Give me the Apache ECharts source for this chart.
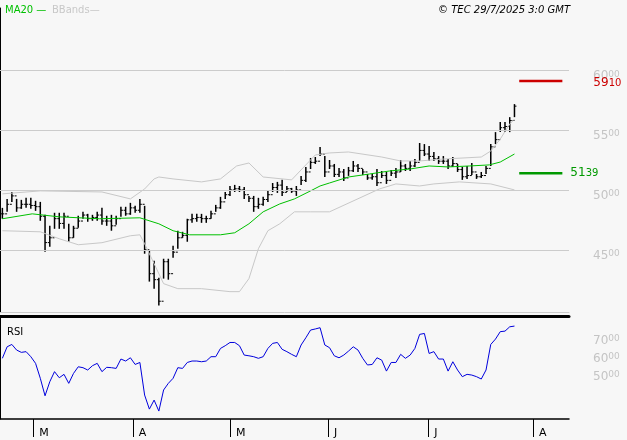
<!DOCTYPE html>
<html><head><meta charset="utf-8">
<script src="https://cdn.jsdelivr.net/npm/echarts@6/dist/echarts.min.js"></script>
<style>html,body{margin:0;padding:0;background:#f7f7f7}#c{width:627px;height:440px}</style>
</head><body><div id="c"></div>
<script>
const highs=[4850,4925,4983,4925,4917,4934,4934,4909,4900,4792,4700,4809,4809,4809,4717,4700,4784,4817,4800,4792,4817,4850,4784,4792,4784,4859,4859,4892,4867,4925,4867,4492,4409,4267,4425,4425,4534,4659,4650,4759,4800,4800,4800,4784,4825,4875,4942,4983,5033,5042,5033,5025,4950,4950,4934,4942,5000,5058,5067,5084,5033,5017,5033,5117,5192,5267,5275,5358,5283,5250,5217,5183,5175,5192,5242,5217,5175,5133,5133,5175,5158,5150,5167,5183,5250,5217,5242,5258,5392,5383,5367,5317,5283,5283,5258,5275,5217,5192,5200,5225,5133,5150,5200,5383,5483,5567,5567,5608,5717];
const lows=[4759,4817,4900,4817,4842,4850,4842,4825,4742,4484,4525,4675,4675,4675,4567,4600,4684,4759,4734,4742,4742,4709,4700,4659,4709,4775,4784,4792,4809,4809,4467,4234,4175,4034,4259,4250,4434,4509,4600,4567,4725,4734,4725,4725,4759,4817,4842,4925,4950,4983,4983,4925,4900,4817,4842,4867,4900,4983,4975,4950,4983,4975,4950,5042,5067,5175,5217,5283,5108,5175,5108,5108,5075,5117,5150,5150,5125,5084,5084,5033,5100,5050,5117,5100,5150,5158,5158,5192,5242,5283,5242,5242,5217,5217,5175,5192,5150,5084,5092,5125,5092,5100,5133,5200,5383,5483,5483,5483,5608];
const closes=[4800,4880,4950,4850,4880,4880,4870,4860,4780,4560,4600,4760,4720,4780,4600,4680,4740,4790,4760,4770,4790,4740,4740,4700,4760,4830,4800,4850,4830,4880,4500,4300,4250,4070,4400,4300,4480,4600,4620,4750,4760,4770,4760,4760,4800,4850,4900,4960,5000,5010,5000,4960,4930,4860,4880,4920,4960,5020,5040,4980,5010,4990,5000,5080,5150,5230,5240,5300,5150,5200,5130,5150,5100,5160,5200,5180,5150,5100,5110,5060,5120,5080,5140,5150,5200,5180,5200,5230,5330,5300,5280,5260,5240,5240,5200,5220,5170,5110,5120,5150,5110,5120,5180,5360,5420,5520,5530,5580,5700];
const rsi=[59.3,65.7,67,63.9,62.6,63,60.2,56.5,48.2,38.5,46.3,51.9,48.5,50.4,45.4,50.9,54.6,54.1,52.8,55.2,56.5,51.9,54.3,54.1,53.7,58.9,57.8,59.6,55.9,57,38.9,31.1,36.1,30,41.7,45.4,48.2,54.1,53.7,57,57.8,57.8,57.4,57.8,60.2,60.2,64.8,66.3,68.1,68.1,66.3,61.1,60.7,60.2,59.3,60.2,64.8,67.6,68.1,64.3,63,61.5,60.2,66.7,70.7,75,75.6,76.3,66.7,65.2,60.7,59.6,61.1,63.3,65.7,63.9,59.3,55.6,55.9,59.6,58.3,52.2,57,57,61.5,59.3,61.1,64.8,72.6,73.1,62,63,58.9,58.9,52.2,57.4,52.8,49.1,50.4,50,49.1,47.8,52.8,67,70,74.1,74.4,76.8,77.2];
const maIdx=[0,6.3,12,20.5,29,33,36,39.5,46,49,52,55,58.5,61.6,65,67,69,73,77.4,81.6,86,90,94,98.5,102.7,105,108];
const maVal=[4759,4800,4775,4759,4767,4717,4659,4625,4625,4642,4717,4817,4883,4925,4992,5033,5058,5108,5133,5158,5175,5200,5192,5200,5209,5233,5300];
const upIdx=[0,8,21,27,30,32,33,36,42,46,49.4,52,55,61,66,69,73,80,84,88,93,101,103,105,107,108];
const upVal=[4967,4992,4983,4925,5008,5092,5108,5092,5067,5092,5200,5225,5108,5084,5292,5309,5317,5275,5242,5242,5258,5275,5325,5425,5550,5592];
const loIdx=[0,8,12,16,21,27,29,30,32,34,37,42,48,50,52,54,56,58.5,61.6,65,69,79.5,83,88,91,96.4,103,108];
const loVal=[4659,4650,4592,4542,4559,4617,4625,4550,4384,4217,4175,4175,4150,4150,4259,4509,4659,4717,4817,4817,4817,5008,5050,5033,5050,5067,5050,5000];
const monthTicks=[7,28,48.5,69.2,90.3,112.4];
const monthLabels=['M','A','M','J','J','A'];
const priceTicks=[4500,5000,5500,6000];
const rsiTicks=[50,60,70];
const lastPrice=5910, ma20Last=5139;
const slots=120;

const pts=(ix,v)=>ix.map((x,k)=>[x+0.5,v[k]]);
const ohlc=highs.map((h,i)=>[i+0.5,i>0?closes[i-1]:closes[i],h,lows[i],closes[i]]);
const rich={b:{fontSize:12,color:'#c4c4c4',fontFamily:'DejaVu Sans'},s:{fontSize:9,color:'#c4c4c4',fontFamily:'DejaVu Sans',verticalAlign:'top',padding:[0,0,4,0]}};
const splitFmt=v=>{const s=String(Math.round(v));return '{b|'+s.slice(0,2)+'}{s|'+(s.slice(2)||'00')+'}';};
const ch=echarts.init(document.getElementById('c'),null,{renderer:'canvas'});
ch.setOption({
 backgroundColor:'#f7f7f7',animation:false,
 title:[{text:'{g|MA20 —}  {h|BBands—}',left:0,top:0,textStyle:{fontSize:10,fontWeight:'normal',rich:{g:{color:'#00c000',fontSize:10,fontWeight:'normal',fontFamily:'DejaVu Sans'},h:{color:'#c8c8c8',fontSize:10,fontWeight:'normal',fontFamily:'DejaVu Sans'}}}},
  {text:'© TEC 29/7/2025 3:0 GMT',right:52,top:0,textStyle:{fontSize:10,fontStyle:'italic',fontWeight:'normal',color:'#000',fontFamily:'DejaVu Sans'}},
  {text:'RSI',left:2,top:322,textStyle:{fontSize:10,fontWeight:'normal',color:'#000',fontFamily:'DejaVu Sans'}}],
 grid:[{left:0,right:58,top:8,height:304},{left:0,right:58,top:316,height:103}],
 xAxis:[
  {type:'value',gridIndex:0,min:0,max:slots,axisLine:{show:true,onZero:false,lineStyle:{color:'#cccccc'}},axisTick:{show:false},axisLabel:{show:false},splitLine:{show:false}},
  {type:'value',gridIndex:1,min:0,max:slots,position:'bottom',axisLine:{show:true,onZero:false,lineStyle:{color:'#000',width:1.5}},
   axisTick:{show:true,customValues:monthTicks,length:18,lineStyle:{color:'#000'}},
   axisLabel:{customValues:monthTicks,formatter:v=>monthLabels[monthTicks.indexOf(v)]||'',align:'left',padding:[3,0,0,6],margin:6,fontSize:11,color:'#000',fontFamily:'DejaVu Sans'},splitLine:{show:false}},
  {type:'value',gridIndex:1,min:0,max:slots,position:'top',axisLine:{show:true,onZero:false,lineStyle:{color:'#000',width:3}},axisTick:{show:false},axisLabel:{show:false},splitLine:{show:false}}
 ],
 yAxis:[
  {type:'value',gridIndex:0,min:3980,max:6520,position:'right',axisLine:{show:true,lineStyle:{color:'#000'}},axisTick:{show:false},splitLine:{show:false},
   axisLabel:{customValues:priceTicks,formatter:splitFmt,rich:rich,margin:24,padding:[12,0,0,0]}},
  {type:'value',gridIndex:1,min:25.6,max:82.8,position:'right',axisLine:{show:true,lineStyle:{color:'#000'}},axisTick:{show:false},splitLine:{show:false},
   axisLabel:{customValues:rsiTicks,formatter:v=>'{b|'+v+'}{s|00}',rich:rich,margin:24,padding:[4,0,0,0]}}
 ],
 series:[
  {type:'line',name:'BBup',data:pts(upIdx,upVal),symbol:'none',lineStyle:{color:'#c8c8c8',width:1},
   markLine:{silent:true,symbol:'none',label:{show:false},lineStyle:{color:'#cccccc',width:1,type:'solid'},data:priceTicks.map(v=>({yAxis:v}))}},
  {type:'line',name:'BBlo',data:pts(loIdx,loVal),symbol:'none',lineStyle:{color:'#c8c8c8',width:1}},
  {type:'line',name:'MA20',data:pts(maIdx,maVal),symbol:'none',lineStyle:{color:'#00c000',width:1}},
  {type:'custom',name:'price',data:ohlc,encode:{x:0,y:[1,2,3,4]},
   renderItem:(p,api)=>{const x=api.value(0);const o=api.coord([x,api.value(1)]),h=api.coord([x,api.value(2)]),l=api.coord([x,api.value(3)]),c=api.coord([x,api.value(4)]);
    const st={stroke:'#000',lineWidth:1.5};
    return {type:'group',children:[
     {type:'line',shape:{x1:h[0],y1:h[1],x2:l[0],y2:l[1]},style:st},
     {type:'line',shape:{x1:o[0]-2,y1:o[1],x2:o[0],y2:o[1]},style:{stroke:'#000',lineWidth:1}},
     {type:'line',shape:{x1:c[0],y1:c[1],x2:c[0]+2,y2:c[1]},style:{stroke:'#000',lineWidth:1}}]};}},
  {type:'line',data:[[109.5,lastPrice],[118.6,lastPrice]],symbol:'none',lineStyle:{color:'#cc0000',width:2.5},
   endLabel:{show:true,formatter:'{b|59}{s|10}',distance:31,padding:[4,0,0,0],rich:{b:{color:'#cc0000',fontSize:12,fontFamily:'DejaVu Sans'},s:{color:'#cc0000',fontSize:10,fontFamily:'DejaVu Sans'}}}},
  {type:'line',data:[[109.5,ma20Last],[118.6,ma20Last]],symbol:'none',lineStyle:{color:'#009900',width:2.5},
   endLabel:{show:true,formatter:'{b|51}{s|39}',distance:8,rich:{b:{color:'#009900',fontSize:12,fontFamily:'DejaVu Sans'},s:{color:'#009900',fontSize:10,fontFamily:'DejaVu Sans'}}}},
  {type:'line',xAxisIndex:1,yAxisIndex:1,data:rsi.map((v,i)=>[i+0.5,v]),symbol:'none',lineStyle:{color:'#0000dd',width:1}}
 ]
});
</script></body></html>
